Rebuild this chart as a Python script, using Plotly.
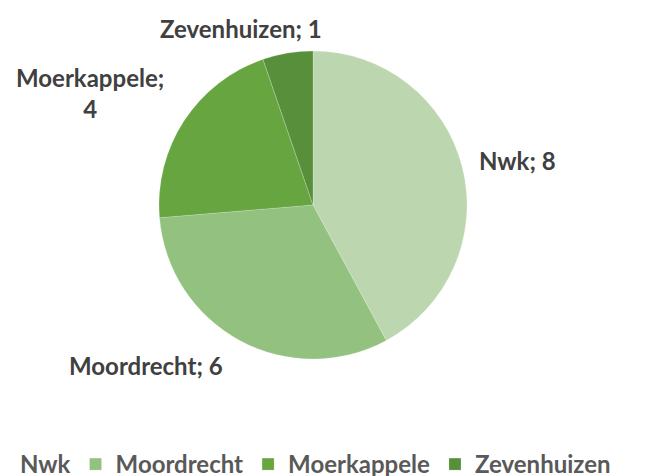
import plotly.graph_objects as go

places = ["Nwk", "Moordrecht", "Moerkappele", "Zevenhuizen"]
counts = [8, 6, 4, 1]
colors = ["#bcd7b0", "#93c17f", "#66a540", "#578f3b"]

# centre of each outside data label, in pixels of the 652x476 canvas
label_px = [517, 146, 90, 241]
label_py = [160, 365, 93, 29]
label_text = [f"{p}; {c}" for p, c in zip(places, counts)]
label_text[2] = f"{places[2]};<br>{counts[2]}"

W, H = 652, 476
OFF = 8  # page body margin shifts the plot by 8px
FONT = "Lato"

fig = go.Figure()
fig.add_trace(go.Pie(
    labels=[f"<b>{p}</b>" for p in places],
    values=counts,
    sort=False,
    direction="clockwise",
    rotation=0,
    marker=dict(colors=colors, line=dict(color="rgba(255,255,255,0.4)", width=0.5)),
    textinfo="none",
    hoverinfo="label+value",
    domain=dict(x=[151 / W, 459 / W], y=[125 / H, 433 / H]),
))

for x, y, t in zip(label_px, label_py, label_text):
    fig.add_annotation(
        x=(x - OFF) / W, y=1 - (y - OFF) / H, xref="paper", yref="paper",
        text=f"<b>{t}</b>", showarrow=False, align="center",
        xanchor="center", yanchor="middle",
        font=dict(family=FONT, size=24, color="#404040"),
    )

fig.update_layout(
    width=W,
    height=H,
    margin=dict(l=0, r=0, t=0, b=0, autoexpand=False),
    paper_bgcolor="white",
    plot_bgcolor="white",
    font=dict(family=FONT, size=24, color="#595959"),
    legend=dict(
        orientation="h",
        x=-28 / W, xanchor="left",
        y=-3 / H, yanchor="bottom",
        font=dict(family=FONT, size=24, color="#595959"),
        itemwidth=30,
        traceorder="normal",
    ),
)

fig.write_html("out.html")
